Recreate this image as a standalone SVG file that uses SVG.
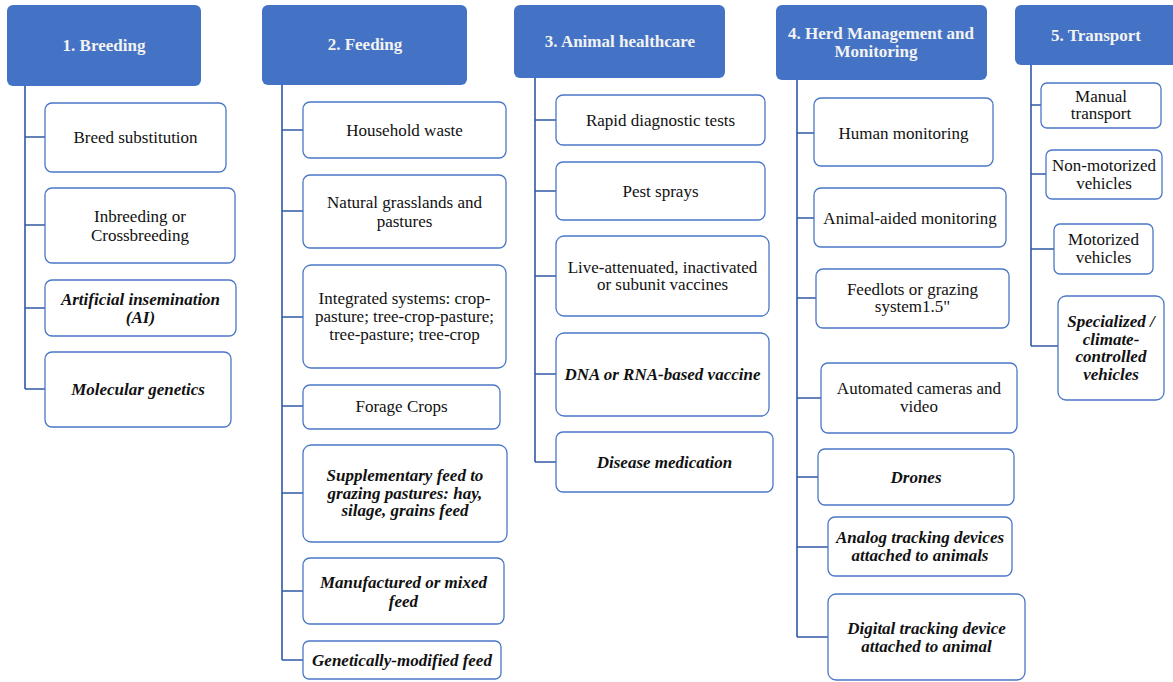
<svg xmlns="http://www.w3.org/2000/svg" width="1173" height="682" viewBox="0 0 1173 682">
  <style>
    .hdr rect { fill: #4472C4; }
    .hdr text { fill: #F2F2F2; font-family: 'Liberation Serif', Tinos, 'Times New Roman', 'DejaVu Serif', serif; font-size: 17px; font-weight: bold; text-anchor: middle; }
    .box rect { fill: #FFFFFF; stroke: #4A77C7; stroke-width: 1.3; }
    .box text { fill: #111111; font-family: 'Liberation Serif', Tinos, 'Times New Roman', 'DejaVu Serif', serif; font-size: 17px; text-anchor: middle; }
    .box.em text { font-weight: bold; font-style: italic; }
    .conn path { fill: none; stroke: #3059A6; stroke-width: 1.6; }
  </style>
  <rect width="1173" height="682" fill="#FFFFFF"/>

  <!-- trunk and branch connectors -->
  <g id="connectors" class="conn">
    <path d="M25 86 V389 M25 137 H45 M25 225 H45 M25 308 H45 M25 389 H45"/>
    <path d="M282 85 V660 M282 130 H303 M282 211 H303 M282 317 H303 M282 406 H303 M282 493 H303 M282 591 H303 M282 660 H303"/>
    <path d="M535 78 V462 M535 120 H556 M535 191 H556 M535 276 H556 M535 374 H556 M535 462 H556"/>
    <path d="M797 80 V637 M797 133 H814 M797 218 H814 M797 298 H816 M797 398 H821 M797 477 H818 M797 547 H828 M797 637 H828"/>
    <path d="M1031 65 V346 M1031 105 H1041 M1031 174 H1046 M1031 249 H1054 M1031 346 H1058"/>
  </g>

  <!-- category headers -->
  <g id="h1" class="hdr"><rect x="7" y="5" width="194" height="81" rx="6"/><text x="104" y="51">1. Breeding</text></g>
  <g id="h2" class="hdr"><rect x="262" y="5" width="205" height="80" rx="6"/><text x="365" y="50">2. Feeding</text></g>
  <g id="h3" class="hdr"><rect x="514" y="5" width="211" height="73" rx="6"/><text x="620" y="47">3. Animal healthcare</text></g>
  <g id="h4" class="hdr"><rect x="776" y="5" width="211" height="75" rx="6"/><text x="881" y="39">4. Herd Management and</text><text x="876" y="57">Monitoring</text></g>
  <g id="h5" class="hdr"><rect x="1015" y="5" width="165" height="60" rx="6"/><text x="1096" y="41">5. Transport</text></g>

  <!-- 1. Breeding -->
  <g id="n1a" class="box"><rect x="45" y="103" width="181" height="69" rx="7"/><text x="135.5" y="143">Breed substitution</text></g>
  <g id="n1b" class="box"><rect x="45" y="188" width="190" height="75" rx="7"/><text x="140" y="222">Inbreeding or</text><text x="140" y="241">Crossbreeding</text></g>
  <g id="n1c" class="box em"><rect x="45" y="280" width="191" height="56" rx="7"/><text x="140.5" y="305">Artificial insemination</text><text x="140.5" y="323">(AI)</text></g>
  <g id="n1d" class="box em"><rect x="45" y="352" width="186" height="75" rx="7"/><text x="138" y="395">Molecular genetics</text></g>

  <!-- 2. Feeding -->
  <g id="n2a" class="box"><rect x="303" y="102" width="203" height="56" rx="7"/><text x="404.5" y="136">Household waste</text></g>
  <g id="n2b" class="box"><rect x="303" y="175" width="203" height="73" rx="7"/><text x="404.5" y="208">Natural grasslands and</text><text x="404.5" y="227">pastures</text></g>
  <g id="n2c" class="box"><rect x="303" y="265" width="203" height="103" rx="8"/><text x="404.5" y="304">Integrated systems: crop-</text><text x="404.5" y="322">pasture; tree-crop-pasture;</text><text x="404.5" y="340">tree-pasture; tree-crop</text></g>
  <g id="n2d" class="box"><rect x="303" y="385" width="197" height="44" rx="7"/><text x="401.5" y="412">Forage Crops</text></g>
  <g id="n2e" class="box em"><rect x="303" y="445" width="204" height="97" rx="8"/><text x="405" y="481">Supplementary feed to</text><text x="405" y="499">grazing pastures: hay,</text><text x="405" y="516">silage, grains feed</text></g>
  <g id="n2f" class="box em"><rect x="303" y="558" width="201" height="66" rx="7"/><text x="403.5" y="588">Manufactured or mixed</text><text x="403.5" y="607">feed</text></g>
  <g id="n2g" class="box em"><rect x="303" y="641" width="198" height="38" rx="6"/><text x="402" y="666">Genetically-modified feed</text></g>

  <!-- 3. Animal healthcare -->
  <g id="n3a" class="box"><rect x="556" y="95" width="209" height="50" rx="7"/><text x="660.5" y="126">Rapid diagnostic tests</text></g>
  <g id="n3b" class="box"><rect x="556" y="162" width="209" height="58" rx="7"/><text x="660.5" y="197">Pest sprays</text></g>
  <g id="n3c" class="box"><rect x="556" y="236" width="213" height="80" rx="8"/><text x="662.5" y="273">Live-attenuated, inactivated</text><text x="662.5" y="290">or subunit vaccines</text></g>
  <g id="n3d" class="box em"><rect x="556" y="333" width="213" height="83" rx="8"/><text x="662.5" y="380">DNA or RNA-based vaccine</text></g>
  <g id="n3e" class="box em"><rect x="556" y="432" width="217" height="60" rx="7"/><text x="664.5" y="468">Disease medication</text></g>

  <!-- 4. Herd Management and Monitoring -->
  <g id="n4a" class="box"><rect x="814" y="98" width="179" height="68" rx="7"/><text x="903.5" y="139">Human monitoring</text></g>
  <g id="n4b" class="box"><rect x="814" y="188" width="192" height="59" rx="7"/><text x="910" y="224">Animal-aided monitoring</text></g>
  <g id="n4c" class="box"><rect x="816" y="269" width="193" height="59" rx="7"/><text x="912.5" y="295">Feedlots or grazing</text><text x="912.5" y="312">system1.5"</text></g>
  <g id="n4d" class="box"><rect x="821" y="363" width="196" height="70" rx="7"/><text x="919" y="394">Automated cameras and</text><text x="919" y="412">video</text></g>
  <g id="n4e" class="box em"><rect x="818" y="449" width="196" height="56" rx="7"/><text x="916" y="483">Drones</text></g>
  <g id="n4f" class="box em"><rect x="828" y="517" width="184" height="59" rx="7"/><text x="920" y="543">Analog tracking devices</text><text x="920" y="561">attached to animals</text></g>
  <g id="n4g" class="box em"><rect x="828" y="594" width="197" height="86" rx="8"/><text x="926.5" y="634">Digital tracking device</text><text x="926.5" y="652">attached to animal</text></g>

  <!-- 5. Transport -->
  <g id="n5a" class="box"><rect x="1041" y="83" width="120" height="45" rx="6"/><text x="1101" y="102">Manual</text><text x="1101" y="119">transport</text></g>
  <g id="n5b" class="box"><rect x="1046" y="150" width="116" height="49" rx="6"/><text x="1104" y="171">Non-motorized</text><text x="1104" y="189">vehicles</text></g>
  <g id="n5c" class="box"><rect x="1054" y="224" width="99" height="50" rx="6"/><text x="1103.5" y="245">Motorized</text><text x="1103.5" y="263">vehicles</text></g>
  <g id="n5d" class="box em"><rect x="1058" y="296" width="106" height="104" rx="8"/><text x="1111" y="327">Specialized /</text><text x="1111" y="345">climate-</text><text x="1111" y="362">controlled</text><text x="1111" y="380">vehicles</text></g>
</svg>
